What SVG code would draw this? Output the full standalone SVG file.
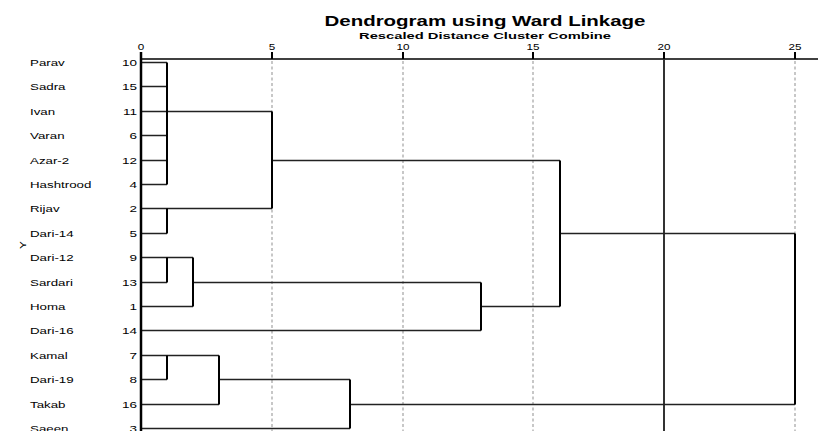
<svg xmlns="http://www.w3.org/2000/svg" width="818" height="431" viewBox="0 0 818 431">
<defs>
<style>
.ttl{font-family:"Liberation Sans",Arial,sans-serif;font-weight:bold;fill:#000}
.lbl{font-family:"Liberation Sans",Arial,sans-serif;font-size:9px;fill:#000}
.num{font-family:"Liberation Sans",Arial,sans-serif;font-size:9px;fill:#000;text-anchor:end}
.tick{font-family:"Liberation Sans",Arial,sans-serif;font-size:9px;fill:#000;text-anchor:middle}
.h{stroke:#222;stroke-width:1.3;fill:none}
.v{stroke:#000;stroke-width:2;fill:none}
.grid{stroke:#aaa;stroke-width:1.3;stroke-dasharray:3,2.5;fill:none}
</style>
</defs>
<rect width="818" height="431" fill="#fff"/>
<g id="title">
<text class="ttl" x="485" y="26" font-size="15" text-anchor="middle" textLength="321" lengthAdjust="spacingAndGlyphs">Dendrogram using Ward Linkage</text>
<text class="ttl" x="485" y="38.5" font-size="9.5" text-anchor="middle" textLength="252" lengthAdjust="spacingAndGlyphs">Rescaled Distance Cluster Combine</text>
</g>
<g id="axis">
<line x1="141" y1="59" x2="818" y2="59" stroke="#000" stroke-width="1.5"/>
<g stroke="#000" stroke-width="2">
<line x1="272" y1="52" x2="272" y2="59"/>
<line x1="403" y1="52" x2="403" y2="59"/>
<line x1="533" y1="52" x2="533" y2="59"/>
<line x1="664" y1="52" x2="664" y2="59"/>
<line x1="795" y1="52" x2="795" y2="59"/>
</g>
<g transform="translate(141,50) scale(1.3,1)"><text class="tick" x="0" y="0">0</text></g>
<g transform="translate(272,50) scale(1.3,1)"><text class="tick" x="0" y="0">5</text></g>
<g transform="translate(403,50) scale(1.3,1)"><text class="tick" x="0" y="0">10</text></g>
<g transform="translate(533,50) scale(1.3,1)"><text class="tick" x="0" y="0">15</text></g>
<g transform="translate(664,50) scale(1.3,1)"><text class="tick" x="0" y="0">20</text></g>
<g transform="translate(795,50) scale(1.3,1)"><text class="tick" x="0" y="0">25</text></g>
<line class="grid" x1="272" y1="61" x2="272" y2="431"/>
<line class="grid" x1="403" y1="61" x2="403" y2="431"/>
<line class="grid" x1="533" y1="61" x2="533" y2="431"/>
<line class="grid" x1="795" y1="61" x2="795" y2="431"/>
<line x1="664" y1="59" x2="664" y2="431" stroke="#333" stroke-width="2"/>
<text transform="translate(26,245) rotate(-90) scale(1.3,1)" class="tick" x="0" y="0">Y</text>
</g>
<g id="leaves">
<g id="leaf-parav"><text class="lbl" transform="translate(30,65.8) scale(1.48,1)">Parav</text><text class="num" transform="translate(137,65.8) scale(1.5,1)">10</text></g>
<g id="leaf-sadra"><text class="lbl" transform="translate(30,90.2) scale(1.48,1)">Sadra</text><text class="num" transform="translate(137,90.2) scale(1.5,1)">15</text></g>
<g id="leaf-ivan"><text class="lbl" transform="translate(30,114.6) scale(1.48,1)">Ivan</text><text class="num" transform="translate(137,114.6) scale(1.5,1)">11</text></g>
<g id="leaf-varan"><text class="lbl" transform="translate(30,139) scale(1.48,1)">Varan</text><text class="num" transform="translate(137,139) scale(1.5,1)">6</text></g>
<g id="leaf-azar2"><text class="lbl" transform="translate(30,163.5) scale(1.48,1)">Azar-2</text><text class="num" transform="translate(137,163.5) scale(1.5,1)">12</text></g>
<g id="leaf-hashtrood"><text class="lbl" transform="translate(30,187.9) scale(1.48,1)">Hashtrood</text><text class="num" transform="translate(137,187.9) scale(1.5,1)">4</text></g>
<g id="leaf-rijav"><text class="lbl" transform="translate(30,212.3) scale(1.48,1)">Rijav</text><text class="num" transform="translate(137,212.3) scale(1.5,1)">2</text></g>
<g id="leaf-dari14"><text class="lbl" transform="translate(30,236.7) scale(1.48,1)">Dari-14</text><text class="num" transform="translate(137,236.7) scale(1.5,1)">5</text></g>
<g id="leaf-dari12"><text class="lbl" transform="translate(30,261.1) scale(1.48,1)">Dari-12</text><text class="num" transform="translate(137,261.1) scale(1.5,1)">9</text></g>
<g id="leaf-sardari"><text class="lbl" transform="translate(30,285.6) scale(1.48,1)">Sardari</text><text class="num" transform="translate(137,285.6) scale(1.5,1)">13</text></g>
<g id="leaf-homa"><text class="lbl" transform="translate(30,310) scale(1.48,1)">Homa</text><text class="num" transform="translate(137,310) scale(1.5,1)">1</text></g>
<g id="leaf-dari16"><text class="lbl" transform="translate(30,334.4) scale(1.48,1)">Dari-16</text><text class="num" transform="translate(137,334.4) scale(1.5,1)">14</text></g>
<g id="leaf-kamal"><text class="lbl" transform="translate(30,358.8) scale(1.48,1)">Kamal</text><text class="num" transform="translate(137,358.8) scale(1.5,1)">7</text></g>
<g id="leaf-dari19"><text class="lbl" transform="translate(30,383.2) scale(1.48,1)">Dari-19</text><text class="num" transform="translate(137,383.2) scale(1.5,1)">8</text></g>
<g id="leaf-takab"><text class="lbl" transform="translate(30,407.7) scale(1.48,1)">Takab</text><text class="num" transform="translate(137,407.7) scale(1.5,1)">16</text></g>
<g id="leaf-saeen"><text class="lbl" transform="translate(30,432.1) scale(1.48,1)">Saeen</text><text class="num" transform="translate(137,432.1) scale(1.5,1)">3</text></g>
</g>
<g id="connectors">
<path class="h" d="M141,62.5H167 M141,86.5H167 M141,111.5H272 M141,135.5H167 M141,160.5H167 M272,160.5H560 M141,184.5H167 M141,208.5H272 M141,233.5H167 M560,233.5H795 M141,257.5H193 M141,282.5H167 M193,282.5H481 M141,306.5H193 M481,306.5H560 M141,330.5H481 M141,355.5H219 M141,379.5H167 M219,379.5H350 M141,404.5H219 M350,404.5H795 M141,428.5H350"/>
<path class="v" d="M167,62.5V184.5 M167,208.5V233.5 M272,111.5V208.5 M560,160.5V306.5 M167,257.5V282.5 M193,257.5V306.5 M481,282.5V330.5 M167,355.5V379.5 M219,355.5V404.5 M350,379.5V428.5 M795,233.5V404.5"/>
<line x1="141" y1="52" x2="141" y2="431" stroke="#000" stroke-width="2.5"/>
</g>
</svg>
